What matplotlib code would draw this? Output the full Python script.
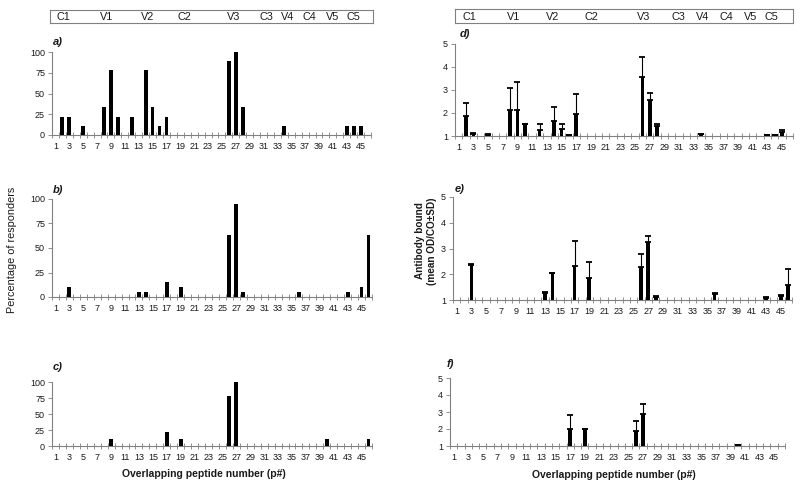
import matplotlib
matplotlib.use("Agg")
import matplotlib.pyplot as plt
import numpy as np

plt.rcParams["font.family"] = ["Liberation Sans", "DejaVu Sans"]

# ── Data ─────────────────────────────────────────────────────────────────────
peptides = np.arange(1, 47)
tick_peptides = np.arange(1, 46, 2)

regions = ["C1", "V1", "V2", "C2", "V3", "C3", "V4", "C4", "V5", "C5"]

# percentage of responders (panels a-c), peptides 1..46
pct_a = [0, 22.2, 22.2, 0, 11.1, 0, 0, 33.3, 77.8, 22.2,
         0, 22.2, 0, 77.8, 33.3, 11.1, 22.2, 0, 0, 0,
         0, 0, 0, 0, 0, 88.9, 100, 33.3, 0, 0,
         0, 0, 0, 11.1, 0, 0, 0, 0, 0, 0,
         0, 0, 11.1, 11.1, 11.1, 0]
pct_b = [0, 0, 10.5, 0, 0, 0, 0, 0, 0, 0,
         0, 0, 5.3, 5.3, 0, 0, 15.8, 0, 10.5, 0,
         0, 0, 0, 0, 0, 63.2, 94.7, 5.3, 0, 0,
         0, 0, 0, 0, 0, 5.3, 0, 0, 0, 0,
         0, 0, 5.3, 0, 10.5, 63.2]
pct_c = [0, 0, 0, 0, 0, 0, 0, 0, 11.1, 0,
         0, 0, 0, 0, 0, 0, 22.2, 0, 11.1, 0,
         0, 0, 0, 0, 0, 77.8, 100, 0, 0, 0,
         0, 0, 0, 0, 0, 0, 0, 0, 0, 11.1,
         0, 0, 0, 0, 0, 11.1]

# antibody bound, mean OD/CO and SD (panels d-f), peptides 1..46
mean_d = [1, 1.86, 1.10, 1, 1.06, 1, 1, 2.15, 2.12, 1.50,
          1, 1.25, 1, 1.64, 1.32, 1.06, 1.96, 1, 1, 1,
          1, 1, 1, 1, 1, 3.57, 2.55, 1.42, 1, 1,
          1, 1, 1, 1.07, 1, 1, 1, 1, 1, 1,
          1, 1, 1.04, 1.04, 1.16, 1]
sd_d = [0, 0.59, 0.02, 0, 0.01, 0, 0, 0.92, 1.22, 0.02,
        0, 0.25, 0, 0.63, 0.18, 0, 0.85, 0, 0, 0,
        0, 0, 0, 0, 0, 0.85, 0.32, 0.12, 0, 0,
        0, 0, 0, 0.02, 0, 0, 0, 0, 0, 0,
        0, 0, 0, 0, 0.09, 0]
mean_e = [1, 1, 2.36, 1, 1, 1, 1, 1, 1, 1,
          1, 1, 1.28, 2.03, 1, 1, 2.32, 1, 1.86, 1,
          1, 1, 1, 1, 1, 2.29, 3.25, 1.13, 1, 1,
          1, 1, 1, 1, 1, 1.22, 1, 1, 1, 1,
          1, 1, 1.09, 1, 1.17, 1.60]
sd_e = [0, 0, 0.02, 0, 0, 0, 0, 0, 0, 0,
        0, 0, 0.02, 0.03, 0, 0, 0.99, 0, 0.62, 0,
        0, 0, 0, 0, 0, 0.50, 0.23, 0.04, 0, 0,
        0, 0, 0, 0, 0, 0.04, 0, 0, 0, 0,
        0, 0, 0.03, 0, 0.04, 0.59]
mean_f = [1, 1, 1, 1, 1, 1, 1, 1, 1, 1,
          1, 1, 1, 1, 1, 1, 2.02, 1, 2.00, 1,
          1, 1, 1, 1, 1, 1.88, 2.90, 1, 1, 1,
          1, 1, 1, 1, 1, 1, 1, 1, 1, 1.04,
          1, 1, 1, 1, 1, 1]
sd_f = [0, 0, 0, 0, 0, 0, 0, 0, 0, 0,
        0, 0, 0, 0, 0, 0, 0.82, 0, 0.02, 0,
        0, 0, 0, 0, 0, 0.57, 0.59, 0, 0, 0,
        0, 0, 0, 0, 0, 0, 0, 0, 0, 0,
        0, 0, 0, 0, 0, 0]

# ── Layout helpers ───────────────────────────────────────────────────────────
W, H = 800, 496
fig = plt.figure(figsize=(W / 100, H / 100), dpi=100)
fig.patch.set_facecolor("white")

SPINE = "#808080"
TXT = "#1a1a1a"


def px_axes(left, top, right, bottom):
    return fig.add_axes([left / W, 1 - bottom / H, (right - left) / W, (bottom - top) / H])


def px_text(x, y, s, **kw):
    fig.text(x / W, 1 - y / H, s, **kw)


def style_axes(ax, yticks):
    ax.set_xlim(0.5, 46.5)
    for side in ("top", "right"):
        ax.spines[side].set_visible(False)
    for side in ("left", "bottom"):
        ax.spines[side].set_color(SPINE)
        ax.spines[side].set_linewidth(0.8)
    ax.set_xticks(tick_peptides)
    ax.set_xticklabels([str(p) for p in tick_peptides])
    ax.set_xticks(np.arange(0.5, 47, 1), minor=True)
    ax.tick_params(axis="x", which="major", length=0, labelsize=6.5,
                   labelcolor=TXT, pad=5)
    ax.tick_params(axis="x", which="minor", direction="inout", length=4,
                   width=0.6, color=SPINE)
    ax.set_yticks(yticks)
    ax.tick_params(axis="y", direction="out", length=3, width=0.6,
                   color=SPINE, labelsize=6.5, labelcolor=TXT, pad=2)


def header(left, top, right, bottom, positions):
    ax = px_axes(left, top, right, bottom)
    ax.set_xlim(0.5, 46.5)
    ax.set_ylim(0, 1)
    ax.set_xticks([])
    ax.set_yticks([])
    for sp in ax.spines.values():
        sp.set_color(SPINE)
        sp.set_linewidth(0.8)
    for name, pos in zip(regions, positions):
        ax.text(pos, 0.45, name, ha="center", va="center", fontsize=7.8, color=TXT)


def pct_panel(ax, values):
    ax.bar(peptides, values, width=0.55, color="black", zorder=3)
    ax.set_ylim(0, 100)
    style_axes(ax, [0, 25, 50, 75, 100])


def od_panel(ax, means, sds):
    means = np.array(means)
    sds = np.array(sds)
    ax.bar(peptides, means - 1, bottom=1, width=0.5, color="black", zorder=3)
    show = means > 1
    ax.errorbar(peptides[show], means[show],
                yerr=[np.zeros(show.sum()), sds[show]],
                fmt="none", ecolor="black", elinewidth=0.8, capsize=2.4,
                capthick=1.3, zorder=4)
    ax.set_ylim(1, 5)
    style_axes(ax, [1, 2, 3, 4, 5])


# ── Header boxes ─────────────────────────────────────────────────────────────
header(50, 10, 373, 23, [2.4, 8.6, 14.4, 19.7, 26.6, 31.3, 34.4, 37.5, 40.7, 43.7])
header(455, 9, 793, 23, [2.4, 8.5, 13.8, 19.0, 26.2, 30.9, 34.2, 37.4, 40.8, 43.6])

# ── Left column: percentage of responders ───────────────────────────────────
ax_a = px_axes(52, 52, 371, 135)
pct_panel(ax_a, pct_a)
ax_b = px_axes(52, 199, 372, 297)
pct_panel(ax_b, pct_b)
ax_c = px_axes(52, 382, 372, 446)
pct_panel(ax_c, pct_c)

# ── Right column: antibody bound ─────────────────────────────────────────────
ax_d = px_axes(455, 44, 793, 136)
od_panel(ax_d, mean_d, sd_d)
ax_e = px_axes(453, 197, 792, 300)
od_panel(ax_e, mean_e, sd_e)
ax_f = px_axes(450, 378, 785, 446)
od_panel(ax_f, mean_f, sd_f)

# ── Panel letters and axis titles ────────────────────────────────────────────
lab = dict(fontsize=8, fontweight="bold", style="italic", color=TXT,
           ha="left", va="center")
px_text(53, 42, "a)", **lab)
px_text(53, 190, "b)", **lab)
px_text(53, 367, "c)", **lab)
px_text(460, 34, "d)", **lab)
px_text(455, 189, "e)", **lab)
px_text(447, 364, "f)", **lab)

px_text(12, 250, "Percentage of responders", rotation=90, fontsize=7.8,
        color=TXT, ha="center", va="center")
px_text(426, 241, "Antibody bound\n(mean OD/CO\u00b1SD)", rotation=90,
        fontsize=7.2, fontweight="bold", color=TXT, ha="center", va="center",
        linespacing=1.15)
px_text(204, 474, "Overlapping peptide number (p#)", fontsize=7.5,
        fontweight="bold", color=TXT, ha="center", va="center")
px_text(614, 475, "Overlapping peptide number (p#)", fontsize=7.5,
        fontweight="bold", color=TXT, ha="center", va="center")

fig.savefig("out.png", dpi=100, facecolor="white")
